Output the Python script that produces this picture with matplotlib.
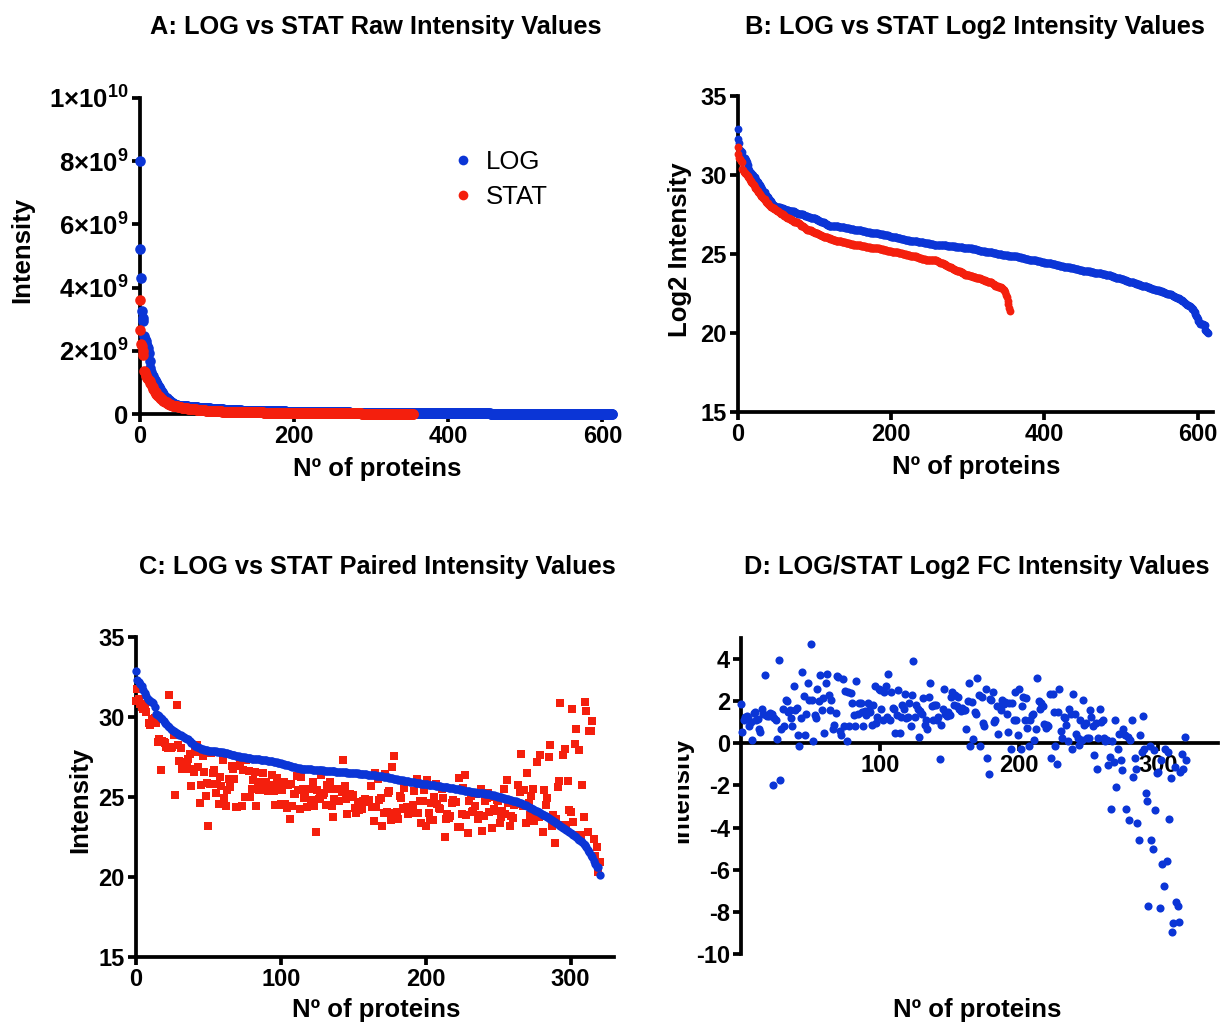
import numpy as np
import matplotlib
matplotlib.use("Agg")
import matplotlib.pyplot as plt
from matplotlib.lines import Line2D
from matplotlib.transforms import Bbox, TransformedBbox

# log2 intensities, sorted, all proteins per condition (panels A and B)
log_all = [
    32.9, 32.28, 32.0, 31.6, 31.5, 31.45, 31.2, 31.15, 31.1, 31.05,
    31.0, 30.95, 30.85, 30.65, 30.45, 30.3, 30.2, 30.15, 30.1, 30.05,
    30.0, 29.9, 29.85, 29.8, 29.7, 29.65, 29.55, 29.5, 29.4, 29.35,
    29.25, 29.2, 29.1, 29.0, 28.95, 28.9, 28.8, 28.75, 28.7, 28.6,
    28.55, 28.5, 28.4, 28.35, 28.3, 28.2, 28.1, 28.1, 28.05, 28.05,
    28.0, 28.0, 28.0, 27.95, 27.95, 27.95, 27.9, 27.9, 27.9, 27.9,
    27.85, 27.85, 27.85, 27.8, 27.8, 27.8, 27.8, 27.75, 27.75, 27.75,
    27.75, 27.7, 27.7, 27.7, 27.65, 27.65, 27.6, 27.6, 27.6, 27.55,
    27.55, 27.55, 27.5, 27.5, 27.5, 27.5, 27.45, 27.45, 27.4, 27.4,
    27.4, 27.4, 27.35, 27.35, 27.35, 27.3, 27.3, 27.3, 27.3, 27.3,
    27.25, 27.25, 27.2, 27.2, 27.15, 27.15, 27.1, 27.1, 27.1, 27.05,
    27.05, 27.0, 27.0, 26.95, 26.95, 26.9, 26.9, 26.85, 26.85, 26.8,
    26.8, 26.8, 26.8, 26.8, 26.8, 26.75, 26.75, 26.75, 26.75, 26.75,
    26.75, 26.75, 26.7, 26.7, 26.7, 26.7, 26.7, 26.7, 26.7, 26.7,
    26.65, 26.65, 26.65, 26.65, 26.65, 26.65, 26.6, 26.6, 26.6, 26.6,
    26.6, 26.6, 26.55, 26.55, 26.55, 26.55, 26.55, 26.5, 26.5, 26.5,
    26.5, 26.5, 26.45, 26.45, 26.45, 26.45, 26.45, 26.4, 26.4, 26.4,
    26.4, 26.4, 26.4, 26.35, 26.35, 26.35, 26.35, 26.35, 26.3, 26.3,
    26.3, 26.3, 26.3, 26.3, 26.25, 26.25, 26.25, 26.25, 26.25, 26.25,
    26.2, 26.2, 26.2, 26.2, 26.2, 26.2, 26.2, 26.15, 26.15, 26.15,
    26.1, 26.1, 26.1, 26.1, 26.05, 26.05, 26.05, 26.05, 26.0, 26.0,
    26.0, 26.0, 26.0, 25.95, 25.95, 25.95, 25.95, 25.95, 25.9, 25.9,
    25.9, 25.9, 25.9, 25.9, 25.85, 25.85, 25.85, 25.85, 25.85, 25.85,
    25.8, 25.8, 25.8, 25.8, 25.8, 25.75, 25.75, 25.75, 25.75, 25.75,
    25.75, 25.75, 25.75, 25.7, 25.7, 25.7, 25.7, 25.7, 25.7, 25.7,
    25.65, 25.65, 25.65, 25.65, 25.65, 25.65, 25.6, 25.6, 25.6, 25.6,
    25.6, 25.6, 25.6, 25.55, 25.55, 25.55, 25.55, 25.55, 25.55, 25.55,
    25.55, 25.55, 25.55, 25.5, 25.5, 25.5, 25.5, 25.5, 25.5, 25.5,
    25.5, 25.5, 25.5, 25.5, 25.45, 25.45, 25.45, 25.45, 25.45, 25.45,
    25.45, 25.45, 25.45, 25.45, 25.4, 25.4, 25.4, 25.4, 25.4, 25.4,
    25.4, 25.4, 25.35, 25.35, 25.35, 25.35, 25.3, 25.3, 25.3, 25.3,
    25.3, 25.3, 25.25, 25.25, 25.25, 25.25, 25.2, 25.2, 25.2, 25.2,
    25.2, 25.2, 25.2, 25.15, 25.15, 25.15, 25.15, 25.1, 25.1, 25.1,
    25.1, 25.1, 25.1, 25.05, 25.05, 25.05, 25.05, 25.05, 25.0, 25.0,
    25.0, 25.0, 25.0, 25.0, 25.0, 24.95, 24.95, 24.95, 24.95, 24.95,
    24.95, 24.95, 24.95, 24.9, 24.9, 24.9, 24.9, 24.9, 24.9, 24.9,
    24.85, 24.85, 24.85, 24.85, 24.85, 24.8, 24.8, 24.8, 24.8, 24.8,
    24.75, 24.75, 24.75, 24.75, 24.75, 24.7, 24.7, 24.7, 24.7, 24.7,
    24.65, 24.65, 24.65, 24.65, 24.65, 24.6, 24.6, 24.6, 24.6, 24.6,
    24.55, 24.55, 24.55, 24.55, 24.55, 24.5, 24.5, 24.5, 24.5, 24.5,
    24.45, 24.45, 24.45, 24.45, 24.4, 24.4, 24.4, 24.4, 24.4, 24.4,
    24.35, 24.35, 24.35, 24.35, 24.35, 24.3, 24.3, 24.3, 24.3, 24.3,
    24.25, 24.25, 24.25, 24.25, 24.25, 24.2, 24.2, 24.2, 24.2, 24.2,
    24.15, 24.15, 24.15, 24.15, 24.1, 24.1, 24.1, 24.1, 24.1, 24.1,
    24.05, 24.05, 24.05, 24.05, 24.05, 24.0, 24.0, 24.0, 24.0, 24.0,
    23.95, 23.95, 23.95, 23.95, 23.95, 23.9, 23.9, 23.9, 23.9, 23.9,
    23.85, 23.85, 23.85, 23.85, 23.85, 23.8, 23.8, 23.8, 23.8, 23.8,
    23.8, 23.8, 23.8, 23.8, 23.8, 23.75, 23.75, 23.75, 23.75, 23.75,
    23.7, 23.7, 23.7, 23.65, 23.65, 23.65, 23.65, 23.6, 23.6, 23.6,
    23.55, 23.55, 23.55, 23.5, 23.5, 23.5, 23.5, 23.45, 23.45, 23.45,
    23.4, 23.4, 23.4, 23.4, 23.35, 23.35, 23.35, 23.3, 23.3, 23.3,
    23.25, 23.25, 23.25, 23.25, 23.2, 23.2, 23.2, 23.15, 23.15, 23.15,
    23.1, 23.1, 23.1, 23.1, 23.05, 23.05, 23.05, 23.0, 23.0, 23.0,
    22.95, 22.95, 22.95, 22.95, 22.9, 22.9, 22.9, 22.85, 22.85, 22.85,
    22.8, 22.8, 22.8, 22.8, 22.75, 22.75, 22.75, 22.7, 22.7, 22.7,
    22.65, 22.65, 22.65, 22.65, 22.6, 22.6, 22.6, 22.55, 22.55, 22.55,
    22.5, 22.5, 22.5, 22.45, 22.45, 22.45, 22.4, 22.4, 22.35, 22.35,
    22.3, 22.3, 22.3, 22.2, 22.2, 22.2, 22.15, 22.15, 22.1, 22.1,
    22.05, 22.0, 21.95, 21.9, 21.9, 21.85, 21.8, 21.8, 21.75, 21.7,
    21.7, 21.65, 21.6, 21.55, 21.5, 21.4, 21.3, 21.2, 21.1, 21.0,
    20.9, 20.75, 20.7, 20.6, 20.6, 20.6, 20.55, 20.55, 20.5, 20.5,
    20.2, 20.1, 20.05, 20.0,
]

stat_all = [
    31.75, 31.3, 31.05, 31.0, 30.9, 30.8, 30.35, 30.3, 30.2, 30.15,
    30.1, 30.05, 30.0, 29.95, 29.85, 29.8, 29.7, 29.65, 29.55, 29.5,
    29.4, 29.35, 29.25, 29.2, 29.1, 29.05, 29.0, 28.9, 28.85, 28.8,
    28.7, 28.65, 28.6, 28.55, 28.5, 28.45, 28.4, 28.3, 28.25, 28.2,
    28.15, 28.1, 28.05, 28.0, 28.0, 27.95, 27.9, 27.9, 27.85, 27.85,
    27.8, 27.75, 27.7, 27.7, 27.65, 27.6, 27.6, 27.55, 27.5, 27.5,
    27.45, 27.4, 27.4, 27.35, 27.3, 27.3, 27.25, 27.25, 27.2, 27.2,
    27.15, 27.15, 27.1, 27.1, 27.05, 27.05, 27.0, 27.0, 27.0, 26.95,
    26.95, 26.9, 26.85, 26.8, 26.8, 26.75, 26.7, 26.7, 26.65, 26.6,
    26.6, 26.55, 26.55, 26.5, 26.5, 26.5, 26.45, 26.45, 26.4, 26.4,
    26.4, 26.35, 26.35, 26.3, 26.3, 26.25, 26.25, 26.2, 26.2, 26.2,
    26.15, 26.15, 26.1, 26.1, 26.1, 26.05, 26.05, 26.05, 26.0, 26.0,
    26.0, 25.95, 25.95, 25.95, 25.9, 25.9, 25.9, 25.9, 25.85, 25.85,
    25.85, 25.85, 25.8, 25.8, 25.8, 25.8, 25.75, 25.75, 25.75, 25.75,
    25.75, 25.7, 25.7, 25.7, 25.7, 25.7, 25.65, 25.65, 25.65, 25.65,
    25.65, 25.6, 25.6, 25.6, 25.6, 25.6, 25.55, 25.55, 25.55, 25.55,
    25.55, 25.5, 25.5, 25.5, 25.5, 25.5, 25.5, 25.45, 25.45, 25.45,
    25.45, 25.45, 25.45, 25.4, 25.4, 25.4, 25.4, 25.4, 25.4, 25.4,
    25.4, 25.35, 25.35, 25.35, 25.35, 25.3, 25.3, 25.3, 25.3, 25.3,
    25.25, 25.25, 25.25, 25.25, 25.25, 25.2, 25.2, 25.2, 25.2, 25.2,
    25.2, 25.15, 25.15, 25.15, 25.15, 25.1, 25.1, 25.1, 25.1, 25.1,
    25.05, 25.05, 25.05, 25.05, 25.05, 25.0, 25.0, 25.0, 25.0, 25.0,
    24.95, 24.95, 24.95, 24.95, 24.95, 24.9, 24.9, 24.9, 24.9, 24.9,
    24.85, 24.85, 24.85, 24.8, 24.8, 24.8, 24.75, 24.75, 24.75, 24.75,
    24.7, 24.7, 24.7, 24.7, 24.7, 24.65, 24.65, 24.65, 24.65, 24.65,
    24.65, 24.6, 24.6, 24.6, 24.6, 24.6, 24.6, 24.6, 24.6, 24.6,
    24.55, 24.55, 24.5, 24.5, 24.45, 24.45, 24.4, 24.4, 24.4, 24.35,
    24.35, 24.3, 24.3, 24.25, 24.25, 24.2, 24.2, 24.15, 24.15, 24.1,
    24.1, 24.05, 24.05, 24.0, 24.0, 24.0, 23.95, 23.95, 23.9, 23.9,
    23.9, 23.85, 23.85, 23.8, 23.8, 23.75, 23.75, 23.7, 23.7, 23.7,
    23.65, 23.65, 23.65, 23.6, 23.6, 23.6, 23.6, 23.55, 23.55, 23.55,
    23.55, 23.5, 23.5, 23.5, 23.45, 23.45, 23.45, 23.4, 23.4, 23.4,
    23.35, 23.35, 23.35, 23.3, 23.3, 23.3, 23.25, 23.25, 23.25, 23.25,
    23.25, 23.2, 23.15, 23.1, 23.1, 23.05, 23.0, 23.0, 22.95, 22.95,
    22.9, 22.9, 22.9, 22.9, 22.85, 22.85, 22.8, 22.75, 22.7, 22.6,
    22.4, 22.25, 22.05, 21.85, 21.6, 21.4,
]

# proteins found in both conditions: sorted LOG log2 intensity (panel C, blue)
log_paired = [
    32.86, 32.3, 32.2, 32.05, 31.95, 31.7, 31.5, 31.3, 31.1, 31.05,
    31.0, 30.95, 30.9, 30.65, 30.2, 30.1, 30.05, 29.95, 29.85, 29.75,
    29.65, 29.55, 29.45, 29.35, 29.25, 29.2, 29.1, 29.05, 29.0, 28.95,
    28.9, 28.85, 28.8, 28.75, 28.7, 28.65, 28.6, 28.5, 28.4, 28.35,
    28.25, 28.2, 28.15, 28.1, 28.05, 28.0, 27.98, 27.96, 27.94, 27.92,
    27.9, 27.89, 27.88, 27.87, 27.86, 27.85, 27.84, 27.83, 27.82, 27.81,
    27.8, 27.78, 27.75, 27.72, 27.7, 27.68, 27.65, 27.62, 27.6, 27.58,
    27.55, 27.54, 27.52, 27.5, 27.49, 27.48, 27.46, 27.44, 27.42, 27.41,
    27.4, 27.39, 27.38, 27.37, 27.36, 27.35, 27.34, 27.33, 27.32, 27.31,
    27.3, 27.28, 27.26, 27.24, 27.22, 27.2, 27.18, 27.16, 27.14, 27.12,
    27.1, 27.07, 27.05, 27.02, 27.0, 26.97, 26.95, 26.92, 26.9, 26.87,
    26.85, 26.83, 26.81, 26.79, 26.77, 26.75, 26.74, 26.74, 26.73, 26.73,
    26.72, 26.72, 26.71, 26.71, 26.7, 26.69, 26.68, 26.67, 26.66, 26.66,
    26.65, 26.64, 26.63, 26.63, 26.62, 26.61, 26.6, 26.6, 26.59, 26.58,
    26.58, 26.57, 26.56, 26.55, 26.55, 26.54, 26.53, 26.52, 26.51, 26.5,
    26.5, 26.49, 26.48, 26.47, 26.46, 26.45, 26.44, 26.43, 26.42, 26.41,
    26.4, 26.39, 26.38, 26.37, 26.36, 26.35, 26.34, 26.33, 26.32, 26.31,
    26.3, 26.28, 26.26, 26.24, 26.22, 26.2, 26.18, 26.16, 26.14, 26.12,
    26.1, 26.08, 26.07, 26.05, 26.04, 26.03, 26.01, 26.0, 25.98, 25.96,
    25.95, 25.93, 25.92, 25.9, 25.89, 25.87, 25.86, 25.84, 25.83, 25.81,
    25.8, 25.79, 25.77, 25.76, 25.75, 25.73, 25.72, 25.7, 25.69, 25.67,
    25.66, 25.65, 25.63, 25.62, 25.61, 25.6, 25.58, 25.57, 25.55, 25.54,
    25.52, 25.5, 25.48, 25.47, 25.45, 25.43, 25.42, 25.4, 25.38, 25.37,
    25.35, 25.34, 25.32, 25.31, 25.3, 25.28, 25.27, 25.26, 25.24, 25.23,
    25.22, 25.21, 25.19, 25.18, 25.16, 25.15, 25.13, 25.1, 25.08, 25.05,
    25.03, 25.0, 24.98, 24.95, 24.93, 24.9, 24.88, 24.85, 24.83, 24.8,
    24.78, 24.75, 24.73, 24.7, 24.68, 24.65, 24.6, 24.56, 24.51, 24.47,
    24.42, 24.38, 24.33, 24.29, 24.24, 24.2, 24.15, 24.1, 24.05, 24.0,
    23.95, 23.9, 23.85, 23.8, 23.75, 23.7, 23.63, 23.57, 23.5, 23.44,
    23.37, 23.3, 23.24, 23.17, 23.11, 23.05, 22.99, 22.93, 22.86, 22.8,
    22.74, 22.67, 22.61, 22.55, 22.47, 22.4, 22.32, 22.24, 22.16, 22.08,
    22.0, 21.85, 21.7, 21.55, 21.4, 21.25, 21.0, 20.8, 20.65, 20.6,
    20.15,
]

# LOG/STAT log2 fold change for the same paired proteins (panel D)
log2_fc = [
    1.85, 0.55, 1.1, 1.25, 1.3, 1.2, 0.8, 1.0, 0.15, 1.45,
    1.5, 1.1, 1.15, 0.7, 0.55, 1.65, 1.4, 3.25, 1.35, 1.3,
    1.3, 1.45, 1.4, -2.0, 1.2, 1.1, 0.2, 3.95, -1.75, 0.7,
    1.65, 0.8, 2.05, 2.0, 1.5, 1.6, 1.2, 0.8, 2.7, 1.6,
    1.7, 0.4, -0.13, 1.2, 3.4, 2.25, 0.4, 1.4, 2.85, 2.05,
    4.7, 2.05, 0.12, 1.35, 1.2, 2.6, 2.0, 3.25, 1.6, 2.15,
    0.5, 2.85, 3.3, 2.3, 1.6, 2.05, 0.7, 0.85, 1.45, 3.2,
    3.15, 0.6, 0.4, 3.05, 0.8, 2.5, 0.12, 2.45, 0.8, 2.4,
    1.9, 1.35, 0.8, 2.95, 1.4, 1.9, 1.9, 1.5, 0.8, 1.55,
    1.35, 1.9, 1.6, 1.5, 0.85, 1.8, 2.7, 0.95, 1.25, 2.6,
    2.55, 1.65, 1.1, 2.45, 2.7, 1.25, 3.3, 1.1, 2.45, 1.7,
    1.65, 0.5, 1.35, 2.55, 0.5, 1.25, 1.8, 1.65, 2.35, 1.2,
    1.25, 1.9, 0.8, 2.3, 3.9, 1.25, 1.8, 1.65, 0.3, 1.55,
    1.4, 2.15, 0.85, 1.1, 0.7, 2.2, 2.85, 1.75, 1.1, 1.8,
    1.8, 1.1, 1.25, -0.75, 0.85, 1.65, 2.6, 1.4, 1.3, 1.5,
    1.35, 2.2, 2.45, 1.8, 2.3, 1.75, 2.2, 1.65, 1.55, 1.7,
    1.6, 1.6, 0.7, 2.0, 2.85, -0.15, 1.95, 0.2, 1.5, 1.4,
    3.1, 2.3, -0.15, 2.2, 0.95, 0.8, 2.6, -0.7, -1.45, 2.1,
    2.05, 2.45, 1.0, 1.1, 1.75, 0.45, 1.75, 1.6, 2.05, 1.85,
    1.95, 1.4, 0.55, 1.9, -0.25, 1.9, 1.1, 2.45, 1.1, 0.4,
    2.6, -0.25, 1.75, 2.2, 1.1, 2.15, 0.75, -0.13, 1.1, 1.35,
    1.4, 0.15, 0.7, 3.1, 2.0, 1.65, 1.9, 1.75, 0.9, 0.75,
    0.85, 0.8, 2.35, -0.7, 2.35, 1.5, -0.15, -1.0, 1.5, 2.6,
    0.6, 0.25, 1.25, 1.2, 0.85, 0.1, 1.65, 1.4, -0.25, 2.35,
    1.4, 0.45, 0.25, -0.1, 1.1, 0.15, 2.05, 0.85, 0.95, 0.25,
    0.25, 1.6, 1.25, 0.8, -0.55, 0.95, -1.2, 0.25, 1.65, 1.0,
    1.1, 0.25, 0.1, 0.15, -1.05, -0.65, -3.1, 0.1, -0.9, 1.1,
    -2.05, -0.25, 0.45, -0.8, -1.25, 0.7, 0.4, -3.1, 0.3, -3.65,
    0.15, 1.1, -1.6, -0.7, -1.2, -3.8, -4.6, 0.4, -0.4, 1.3,
    -0.25, -2.35, -2.75, -7.7, -0.15, -4.6, -5.0, -0.3, -3.15, -1.4,
    -1.35, -7.8, -0.8, -5.75, -6.75, -0.25, -5.6, -0.4, -3.6, -1.65,
    -8.95, -8.55, -1.1, -7.55, -7.7, -8.5, -1.35, -0.5, -1.2, 0.3,
    -0.8,
]

titles = [
    "A: LOG vs STAT Raw Intensity Values",
    "B: LOG vs STAT Log2 Intensity Values",
    "C: LOG vs STAT Paired Intensity Values",
    "D: LOG/STAT Log2 FC Intensity Values",
]
raw_ticks = [0, 2e9, 4e9, 6e9, 8e9, 1e10]
raw_ticklabels = ["0", r"$2{\times}10^{9}$", r"$4{\times}10^{9}$",
                  r"$6{\times}10^{9}$", r"$8{\times}10^{9}$", r"$1{\times}10^{10}$"]
series_names = ["LOG", "STAT"]

BLUE = "#0b35d6"
RED = "#f41f0d"

plt.rcParams["font.family"] = ["Liberation Sans", "DejaVu Sans"]
plt.rcParams["font.weight"] = "bold"
plt.rcParams["axes.unicode_minus"] = False
plt.rcParams["mathtext.fontset"] = "custom"
plt.rcParams["mathtext.rm"] = "Liberation Sans:bold"
plt.rcParams["mathtext.it"] = "Liberation Sans:bold"
plt.rcParams["mathtext.bf"] = "Liberation Sans:bold"

W, H = 1220, 1023
fig = plt.figure(figsize=(W / 100, H / 100), dpi=100)


def px_axes(left, top, right, bottom):
    return fig.add_axes([left / W, 1 - bottom / H, (right - left) / W, (bottom - top) / H])


def style(ax):
    for s in ["top", "right"]:
        ax.spines[s].set_visible(False)
    for s in ["left", "bottom"]:
        ax.spines[s].set_linewidth(2.7)
    ax.tick_params(width=2.7, length=6, labelsize=17, pad=2)


def ftext(x, y, s, **kw):
    return fig.text(x / W, 1 - y / H, s, ha="center", va="center", **kw)


log_all = np.array(log_all)
stat_all = np.array(stat_all)
log_paired = np.array(log_paired)
log2_fc = np.array(log2_fc)
n = min(len(log_paired), len(log2_fc))
stat_paired = log_paired[:n] - log2_fc[:n]

# A: raw intensities
axA = px_axes(139.5, 98, 614, 414)
axA.scatter(np.arange(len(log_all)), 2 ** log_all, s=58, color=BLUE, lw=0, clip_on=False, zorder=3)
axA.scatter(np.arange(len(stat_all)), 2 ** stat_all, s=58, color=RED, lw=0, clip_on=False, zorder=3)
axA.set_xlim(0, 615)
axA.set_ylim(0, 1e10)
axA.set_xticks([0, 200, 400, 600])
axA.set_yticks(raw_ticks)
axA.set_yticklabels(raw_ticklabels)
style(axA)
axA.tick_params(axis="y", labelsize=18.5)
handles = [Line2D([], [], ls="", marker="o", ms=7, color=c, mec="none") for c in (BLUE, RED)]
axA.legend(handles, series_names, loc="upper left", bbox_to_anchor=(0.66, 0.835),
           frameon=False, borderpad=0, borderaxespad=0, handlelength=0.8, handletextpad=0.5,
           labelspacing=0.42, prop={"size": 18.5, "weight": "normal"})

# B: log2 intensities
axB = px_axes(737.7, 96, 1213, 412)
axB.scatter(np.arange(len(log_all)), log_all, s=32, color=BLUE, lw=0, clip_on=False, zorder=3)
axB.scatter(np.arange(len(stat_all)), stat_all, s=32, color=RED, lw=0, clip_on=False, zorder=3)
axB.set_xlim(0, 620)
axB.set_ylim(15, 35)
axB.set_xticks([0, 200, 400, 600])
axB.set_yticks([15, 20, 25, 30, 35])
style(axB)

# C: paired intensities
axC = px_axes(136, 637, 614, 957)
axC.scatter(np.arange(n), stat_paired, s=30, marker="s", color=RED, lw=0, clip_on=False, zorder=3)
axC.scatter(np.arange(n), log_paired[:n], s=36, color=BLUE, lw=0, clip_on=False, zorder=3)
axC.set_xlim(0, 330)
axC.set_ylim(15, 35)
axC.set_xticks([0, 100, 200, 300])
axC.set_yticks([15, 20, 25, 30, 35])
style(axC)

# D: fold change
axD = px_axes(741, 638, 1218, 954)
axD.scatter(np.arange(n), log2_fc[:n], s=34, color=BLUE, lw=0, clip_on=False, zorder=3)
axD.set_xlim(0, 343)
axD.set_ylim(-10, 5)
axD.spines["bottom"].set_position(("data", 0))
axD.set_xticks([100, 200, 300])
axD.set_yticks([-10, -8, -6, -4, -2, 0, 2, 4])
style(axD)

# titles and axis labels
ftext(376, 27, titles[0], fontsize=18.3)
ftext(975, 27, titles[1], fontsize=18.3)
ftext(377, 567, titles[2], fontsize=18.3)
ftext(977, 567, titles[3], fontsize=18.3)

ftext(377, 469, "Nº of proteins", fontsize=18.5)
ftext(976, 467, "Nº of proteins", fontsize=18.5)
ftext(376, 1010, "Nº of proteins", fontsize=18.5)
ftext(977, 1010, "Nº of proteins", fontsize=18.5)

ftext(22, 250, "Intensity", fontsize=18.5, rotation=90)
ftext(680, 250, "Log2 Intensity", fontsize=18.5, rotation=90)
ftext(80, 800, "Intensity", fontsize=18.5, rotation=90)
lab = ftext(681, 790, "Intensity", fontsize=18.5, rotation=90)
lab.set_clip_box(TransformedBbox(Bbox.from_extents(678 / W, 0, 1, 1), fig.transFigure))
lab.set_clip_on(True)

fig.savefig("out.png", dpi=100)
